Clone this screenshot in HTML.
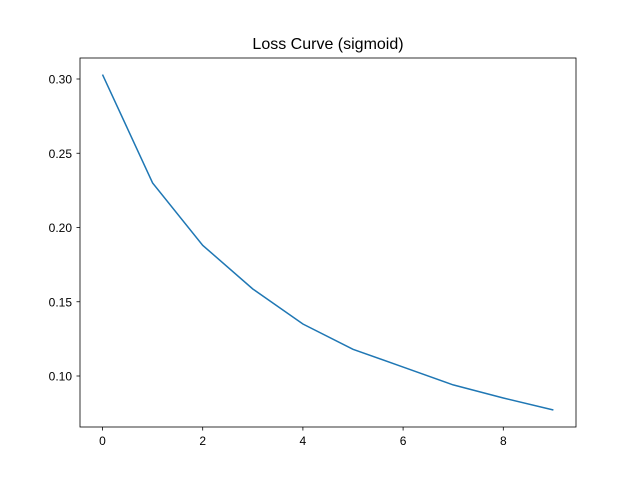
<!DOCTYPE html>
<html><head><meta charset="utf-8"><style>
body{margin:0;background:#fff}
svg text{font-family:"Liberation Sans","DejaVu Sans",sans-serif;fill:#000}
</style></head><body>
<svg id="chart" width="640" height="480">
<rect width="640" height="480" fill="#fff"/>
<text x="328" y="49" font-size="16" text-anchor="middle">Loss Curve (sigmoid)</text>
<g id="ticks"></g>
<polyline id="line" fill="none" stroke="#1f77b4" stroke-width="1.5"/>
<rect x="80" y="58" width="496" height="369" fill="none" stroke="#000" stroke-width="0.8"/>
</svg>
<script>
const epochs=[0,1,2,3,4,5,6,7,8,9];
const losses=[0.303,0.230,0.188,0.1586,0.135,0.118,0.106,0.094,0.0852,0.0771];
const xTicks=[0,2,4,6,8];
const yTicks=[0.10,0.15,0.20,0.25,0.30];
const NS="http://www.w3.org/2000/svg";
function xs(v){return 102.5+v*50.1;}
function ys(v){return 79+(0.30-v)*1485;}
const g=document.getElementById('ticks');
function mk(tag,attrs,txt){const e=document.createElementNS(NS,tag);for(const k in attrs)e.setAttribute(k,attrs[k]);if(txt!==undefined)e.textContent=txt;g.appendChild(e);return e;}
xTicks.forEach(t=>{
  const l=mk('line',{x1:xs(t),x2:xs(t),y1:427,y2:430.5,stroke:'#000','stroke-width':0.8});
  
  
  const tx=mk('text',{x:xs(t),y:445,'font-size':12,'text-anchor':'middle'},String(t));
  
  
});
yTicks.forEach(t=>{
  const l=mk('line',{x1:76.5,x2:80,y1:ys(t),y2:ys(t),stroke:'#000','stroke-width':0.8});
  
  
  const tx=mk('text',{x:72,y:ys(t)+4.5,'font-size':12,'text-anchor':'end'},t.toFixed(2));
  
  
});
document.getElementById('line').setAttribute('points',epochs.map((e,i)=>xs(e)+','+ys(losses[i])).join(' '));
</script>
</body></html>
